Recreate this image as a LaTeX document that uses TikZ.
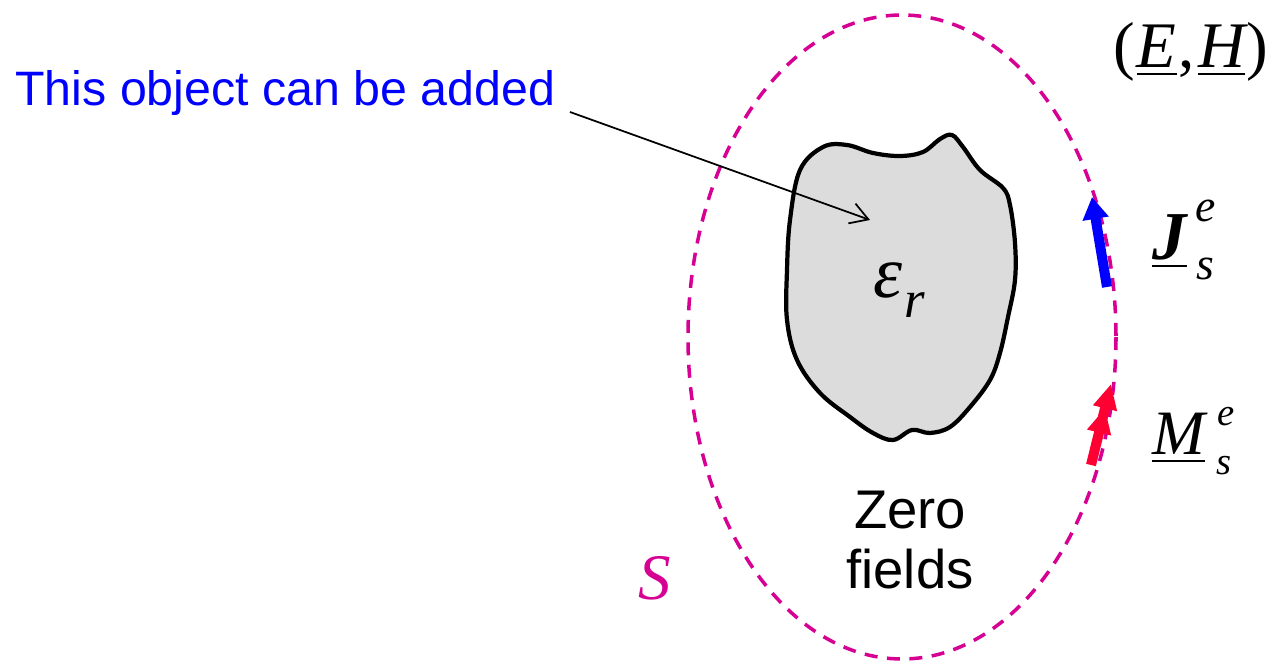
\documentclass[tikz,border=0pt]{standalone}
\usepackage{amsmath}
\usepackage{fontspec}
\setmainfont{Liberation Sans}
\newfontfamily\tms{Liberation Serif}
\usetikzlibrary{arrows.meta}
\definecolor{surfmag}{RGB}{214,0,147}
\definecolor{srcred}{RGB}{255,0,51}
\definecolor{objgray}{RGB}{220,220,220}

\begin{document}
\begin{tikzpicture}[x=0.02cm,y=-0.02cm]
		\tikzstyle{every node}+=[inner sep=0pt]
		\useasboundingbox (0,0) rectangle (1272,665);
		\draw [surfmag, line width=2pt, dash pattern=on 0.26cm off 0.19cm] (902,337) ellipse (214 and 322);
		\draw [black, line width=2.4pt, fill=objgray] plot [smooth cycle, tension=0.6] coordinates {(800,170) (823,147) (847,145) (873,153) (900,156) (923,152) (940,139) (952,135) (963,147) (980,170) (1003,188) (1010,205) (1015,243) (1015,280) (1008,317) (1000,353) (990,380) (970,407) (950,427) (930,433) (912,430) (893,440) (873,433) (850,417) (820,393) (797,360) (787,320) (787,270) (790,220)};
		\node (epsr) at (899,290) {\tms\itshape\fontsize{42}{44}\selectfont ε\kern1pt\raisebox{-0.28em}{\fontsize{30}{32}\selectfont r}};
		\node [blue, anchor=west] (objtext) at (15,93) {\fontsize{27.5}{33}\selectfont This object can be added};
		\coordinate (ptrtail) at (570,112);
		\coordinate (ptrhead) at (870,220);
		\draw [black, line width=1pt, -{Straight Barb[length=0.35cm,width=0.42cm]}] (ptrtail) -- (ptrhead);
		\node [align=center, font=\fontsize{31}{34}\selectfont] (zerotext) at (910,540) {Zero\\fields};
		\node [surfmag] (slabel) at (655,578) {\fontsize{37}{40}\selectfont\tms\itshape S};
		\node (fieldlabel) at (1191,52) {\tms\fontsize{37}{40}\selectfont (\kern1pt\underline{\itshape E}\kern1pt,\kern2pt\underline{\itshape H}\kern1pt)};
		\node [anchor=west] (jlabel) at (1152,240) {\tms\itshape\fontsize{39}{40}\selectfont \underline{\bfseries J}\kern5pt\raisebox{0.55em}{\fontsize{26}{28}\selectfont e}\kern-11pt\raisebox{-0.3em}{\fontsize{26}{28}\selectfont s}};
		\node [anchor=west] (mlabel) at (1152,441) {\tms\itshape\fontsize{36}{40}\selectfont \underline{M}\kern7pt\raisebox{0.46em}{\fontsize{22}{24}\selectfont e}\kern-10pt\raisebox{-0.31em}{\fontsize{22}{24}\selectfont s}};
		\coordinate (jtail) at (1107,287);
		\coordinate (jtip) at (1092,197);
		\draw [blue, line width=0.2cm, -{Triangle[length=0.44cm,width=0.5cm]}] (jtail) -- (jtip);
		\coordinate (mtail) at (1091,465);
		\coordinate (mtip) at (1111,384);
		\draw [srcred, line width=0.2cm, -{Triangle[length=0.5cm,width=0.46cm]Triangle[length=0.5cm,width=0.46cm]}] (mtail) -- (mtip);
	\end{tikzpicture}
\end{document}
